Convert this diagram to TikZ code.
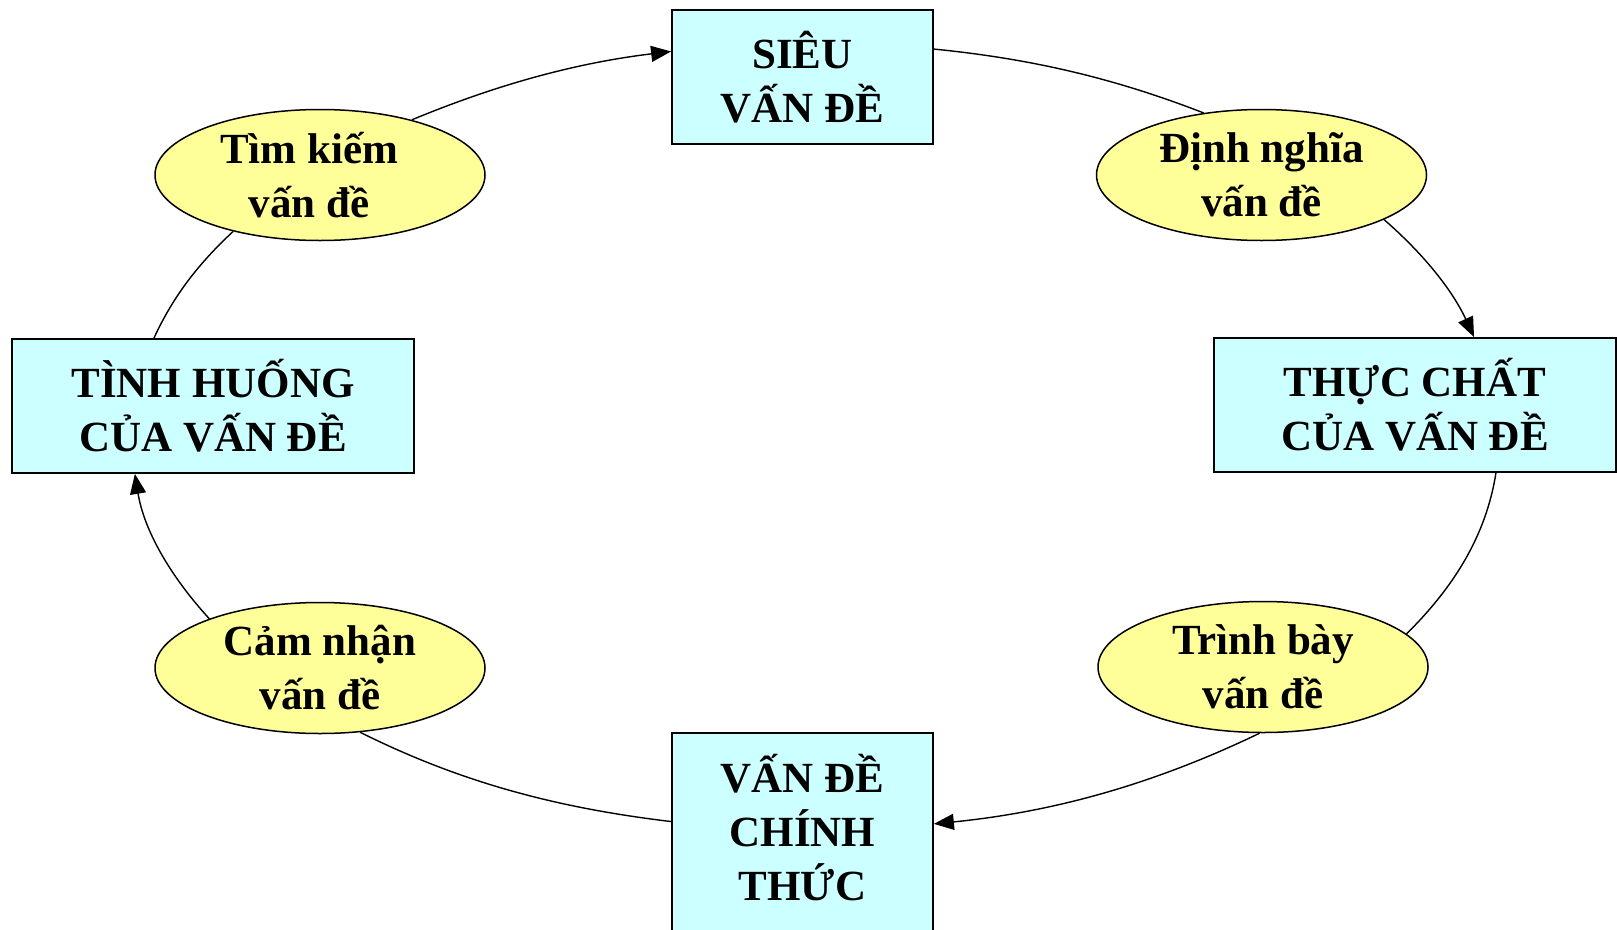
\documentclass[tikz,border=0pt]{standalone}
\usepackage{fontspec}
\setmainfont{Liberation Serif}
\usetikzlibrary{shapes.geometric,arrows.meta}
\definecolor{boxfill}{HTML}{CCFFFF}
\definecolor{ellfill}{HTML}{FFFF99}
\begin{document}
\begin{tikzpicture}[x=1pt,y=1pt,
  txt/.style={align=center, font=\fontsize{43}{54}\selectfont\bfseries},
  boxnode/.style={txt, draw=black, line width=1.8pt, fill=boxfill, rectangle, inner sep=0pt},
  ellnode/.style={txt, draw=black, line width=1.5pt, fill=ellfill, ellipse, inner sep=0pt, minimum width=330pt, minimum height=131pt},
  link/.style={line width=1.4pt, looseness=0.9},
  arr/.style={link, -{Triangle[length=20pt,width=16pt]}}]
\useasboundingbox (0,0) rectangle (1617,-929);
\fill[white] (0,0) rectangle (1617,-929);
\clip (0,0) rectangle (1617,-929);
\node[boxnode, minimum width=261pt, minimum height=134pt] (sieu) at (802.5,-77) {SIÊU\\VẤN ĐỀ};
\node[boxnode, minimum width=402pt, minimum height=134pt] (thuc) at (1415,-405) {THỰC CHẤT\\CỦA VẤN ĐỀ};
\node[boxnode, minimum width=402pt, minimum height=134pt] (tinh) at (213,-406) {TÌNH HUỐNG\\CỦA VẤN ĐỀ};
\node[boxnode, minimum width=261pt, minimum height=214pt, text depth=26pt] (chinh) at (802.5,-840) {VẤN ĐỀ\\CHÍNH\\THỨC};
\node[ellnode] (dn) at (1261.5,-175) {Định nghĩa\\vấn đề};
\node[ellnode] (tb) at (1263,-667) {Trình bày\\vấn đề};
\node[ellnode] (cn) at (320,-668) {Cảm nhận\\vấn đề};
\node[ellnode] (tk) at (320,-175) {Tìm kiếm\hspace*{22pt}\\vấn đề\hspace*{22pt}};
\draw[arr] (tk.31) to[out=22.5,in=186.9] (sieu.169);
\draw[link] (sieu.12) to[out=-5.7,in=158.8] (dn.133);
\draw[arr] (dn.-20) to[out=-41,in=114.8] (thuc.49);
\draw[link] (thuc.-40) to[out=-98.9,in=44.7] (tb.13);
\draw[arr] (tb.-93) to[out=-154.3,in=5.7] (chinh.7.5);
\draw[link] (chinh.172.6) to[out=173.2,in=-26.5] (cn.-58);
\draw[arr] (cn.156) to[out=132.5,in=-80.8] (tinh.221.4);
\draw[link] (tinh.131.8) to[out=65.3,in=222.9] (tk.213.4);
\end{tikzpicture}
\end{document}
